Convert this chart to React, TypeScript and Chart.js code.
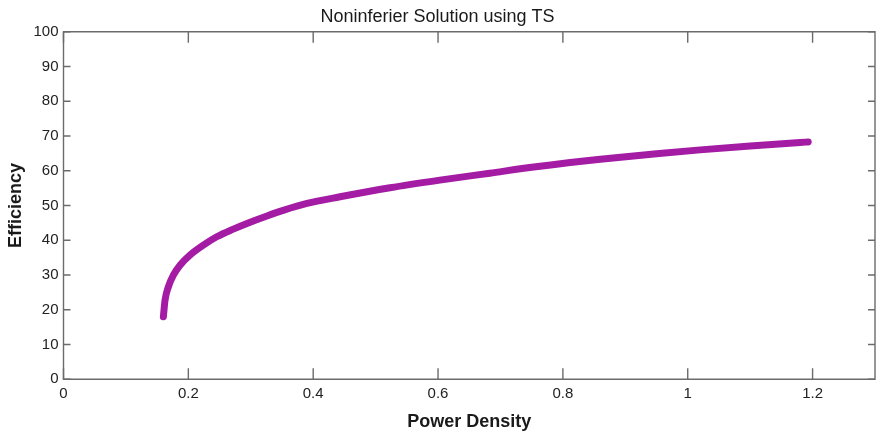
import React, { useEffect, useRef } from "react";
import { Chart, registerables } from "chart.js";

Chart.register(...registerables);

const powerDensity = [0.160, 0.1627, 0.168, 0.176, 0.187, 0.203, 0.224, 0.2455, 0.272, 0.299, 0.326, 0.352, 0.390, 0.443, 0.523, 0.603, 0.683, 0.760, 0.860, 0.950, 1.020, 1.100, 1.180, 1.193];
const efficiency = [18.0, 22.8, 26.6, 30.0, 32.9, 35.8, 38.6, 41.0, 43.2, 45.2, 47.0, 48.6, 50.6, 52.5, 55.1, 57.3, 59.3, 61.2, 63.3, 64.9, 66.0, 67.1, 68.1, 68.3];
const xTicks = [0, 0.2, 0.4, 0.6, 0.8, 1, 1.2];
const yTicks = [0, 10, 20, 30, 40, 50, 60, 70, 80, 90, 100];

const FONT = "'Liberation Sans', Arial, Helvetica, sans-serif";
const AXIS = "#6b6b6b";

const boxPlugin = {
  id: "matlabBox",
  afterDraw(chart: any) {
    const { ctx, chartArea: a, scales } = chart;
    ctx.save();
    ctx.strokeStyle = AXIS;
    ctx.lineWidth = 1.4;
    ctx.beginPath();
    ctx.rect(a.left, a.top, a.right - a.left, a.bottom - a.top);
    ctx.stroke();
    ctx.beginPath();
    xTicks.forEach((v) => {
      const px = scales.x.getPixelForValue(v);
      ctx.moveTo(px, a.bottom);
      ctx.lineTo(px, a.bottom - 11);
      ctx.moveTo(px, a.top);
      ctx.lineTo(px, a.top + 11);
    });
    yTicks.forEach((v) => {
      const py = scales.y.getPixelForValue(v);
      ctx.moveTo(a.left, py);
      ctx.lineTo(a.left + 7, py);
      ctx.moveTo(a.right, py);
      ctx.lineTo(a.right - 7, py);
    });
    ctx.stroke();
    ctx.restore();
  },
};

export default function App() {
  const ref = useRef<HTMLCanvasElement | null>(null);
  useEffect(() => {
    document.body.style.margin = "0";
    const chart = new Chart(ref.current as HTMLCanvasElement, {
      type: "scatter",
      data: {
        datasets: [
          {
            data: powerDensity.map((x, i) => ({ x, y: efficiency[i] })),
            showLine: true,
            borderColor: "rgb(163, 28, 163)",
            backgroundColor: "rgb(163, 28, 163)",
            borderWidth: 7,
            pointRadius: 0,
            borderCapStyle: "round",
            borderJoinStyle: "round",
            cubicInterpolationMode: "monotone",
          } as any,
        ],
      },
      options: {
        animation: false,
        responsive: false,
        maintainAspectRatio: false,
        layout: { padding: { top: 0, right: 1, bottom: 0, left: 0 } },
        plugins: {
          legend: { display: false },
          tooltip: { enabled: false },
          title: {
            display: true,
            text: "Noninferier Solution using TS",
            color: "#1a1a1a",
            font: { family: FONT, size: 18, weight: "normal" },
            padding: { top: 6.7, bottom: 3.4 },
          },
        },
        scales: {
          x: {
            type: "linear",
            min: 0,
            max: 1.3,
            afterFit: (s: any) => {
              s.height = 53.7;
            },
            grid: { display: false, drawTicks: false },
            border: { display: false },
            ticks: {
              stepSize: 0.2,
              includeBounds: false,
              padding: 6,
              color: "#222",
              font: { family: FONT, size: 15 },
              maxRotation: 0,
              callback: (v: any) => String(Number(Number(v).toFixed(1))),
            },
            title: {
              display: true,
              text: "Power Density",
              color: "#1a1a1a",
              font: { family: FONT, size: 18, weight: "bold" },
              padding: { top: 2, bottom: 0 },
            },
          },
          y: {
            type: "linear",
            min: 0,
            max: 100,
            afterFit: (s: any) => {
              s.width = 63.5;
            },
            grid: { display: false, drawTicks: false },
            border: { display: false },
            ticks: {
              stepSize: 10,
              padding: 5,
              color: "#222",
              font: { family: FONT, size: 15 },
            },
            title: {
              display: true,
              text: "Efficiency",
              color: "#1a1a1a",
              font: { family: FONT, size: 18, weight: "bold" },
              padding: { top: 5.7, bottom: 0 },
            },
          },
        },
      },
      plugins: [boxPlugin],
    });
    return () => chart.destroy();
  }, []);
  return (
    <div style={{ width: 876, height: 433, background: "#fff" }}>
      <canvas ref={ref} width={876} height={433} style={{ display: "block" }} />
    </div>
  );
}
